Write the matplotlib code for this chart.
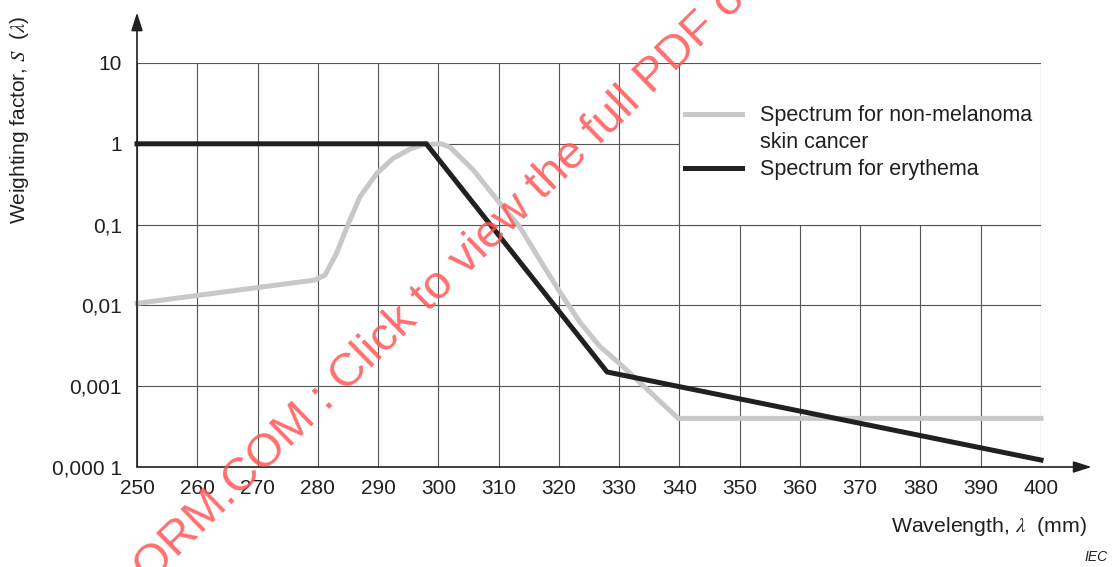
import numpy as np
import matplotlib
matplotlib.use("Agg")
import matplotlib.pyplot as plt
from matplotlib.patches import Rectangle
from matplotlib.lines import Line2D

plt.rcParams["font.family"] = ["Liberation Sans", "DejaVu Sans"]
plt.rcParams["mathtext.fontset"] = "stix"

# ── Data ───────────────────────────────────────────────────────────────────
nmsc_wl = [250, 279.5, 281.2, 283.1, 285.1, 287.0, 289.8, 292.5, 295.3, 297.5, 300.5, 302,
           305.8, 310.2, 313.5, 316.9, 320.2, 323.5, 326.8, 330.1, 339.8, 400]
nmsc_s = [0.0106, 0.0206, 0.0238, 0.044, 0.104, 0.221, 0.431, 0.66, 0.86, 0.98, 1.0, 0.9,
          0.474, 0.184, 0.094, 0.036, 0.0145, 0.0062, 0.0031, 0.0019, 0.0004, 0.0004]

ery_wl = [250, 298, 328, 400]
ery_s = [1.0, 1.0, 0.0015, 0.000122]

x_ticks = list(range(250, 401, 10))
y_ticks = [1e-4, 1e-3, 1e-2, 1e-1, 1, 10]
y_labels = ["0,000 1", "0,001", "0,01", "0,1", "1", "10"]

GRID = "#555555"
INK = "#231f20"

# ── Figure ─────────────────────────────────────────────────────────────────
fig = plt.figure(figsize=(11.12, 5.67), dpi=100)
ax = fig.add_axes([137 / 1112, 1 - 467 / 567, 904 / 1112, 404 / 567])
ax.set_yscale("log")
ax.set_xlim(250, 400)
ax.set_ylim(1e-4, 10)

for s in ax.spines.values():
    s.set_visible(False)

ax.set_xticks(x_ticks)
ax.set_xticklabels([str(t) for t in x_ticks], fontsize=15, color=INK)
ax.set_yticks(y_ticks)
ax.set_yticklabels(y_labels, fontsize=15, color=INK)
ax.yaxis.set_minor_locator(matplotlib.ticker.NullLocator())
ax.tick_params(axis="both", length=0)
ax.tick_params(axis="x", pad=9)
ax.tick_params(axis="y", pad=11)

# grid
ax.vlines(x_ticks, 1e-4, 10, color=GRID, lw=0.8, zorder=1)
ax.hlines(y_ticks, 250, 400, color=GRID, lw=0.8, zorder=1)

# white legend area over the grid (top right)
ax.add_patch(Rectangle((340, 0.1), 60, 10 - 0.1, facecolor="white",
                       edgecolor=GRID, lw=0.8, zorder=2))

gray_line, = ax.plot(nmsc_wl, nmsc_s, color="#c8c8c8", lw=3.6, solid_joinstyle="round",
                     zorder=3, clip_on=False)
black_line, = ax.plot(ery_wl, ery_s, color=INK, lw=3.6, solid_joinstyle="miter",
                      zorder=4, clip_on=False)

blank = Line2D([], [], color="none")
leg = ax.legend([gray_line, blank, black_line],
                ["Spectrum for non-melanoma", "skin cancer", "Spectrum for erythema"],
                loc="upper left", bbox_to_anchor=(0.606, 0.895), frameon=False,
                fontsize=15.5, handlelength=2.65, handletextpad=0.84,
                labelspacing=0.27, borderpad=0, borderaxespad=0)
for t in leg.get_texts():
    t.set_color(INK)

# axis arrows
arrow = dict(arrowstyle="-|>,head_length=1.1,head_width=0.35", color=INK,
             lw=1.2, shrinkA=0, shrinkB=0)
ax.annotate("", xy=(0, 1.125), xytext=(0, 0), xycoords="axes fraction",
            textcoords="axes fraction", arrowprops=arrow, zorder=5)
ax.annotate("", xy=(1.056, 0), xytext=(0, 0), xycoords="axes fraction",
            textcoords="axes fraction", arrowprops=arrow, zorder=5)

# labels
fig.text(20 / 1112, 1 - 120 / 567, r"Weighting factor, $S$  ($\lambda$)",
         rotation=90, ha="center", va="center", fontsize=15, color=INK)
fig.text(1087 / 1112, 1 - 527 / 567, r"Wavelength, $\lambda$  (mm)",
         ha="right", va="center", fontsize=15.3, color=INK)
fig.text(1108 / 1112, 1 - 557 / 567, "IEC", ha="right", va="center",
         fontsize=10, style="italic", color=INK)

# watermark
fig.text(150 / 1112, 1 - 584 / 567, "ORM.COM : Click to view the full PDF o",
         rotation=44.3, ha="left", va="baseline", fontsize=34, color="#ff5555",
         alpha=0.85, rotation_mode="anchor", zorder=10)

fig.savefig("out.png", dpi=100)
